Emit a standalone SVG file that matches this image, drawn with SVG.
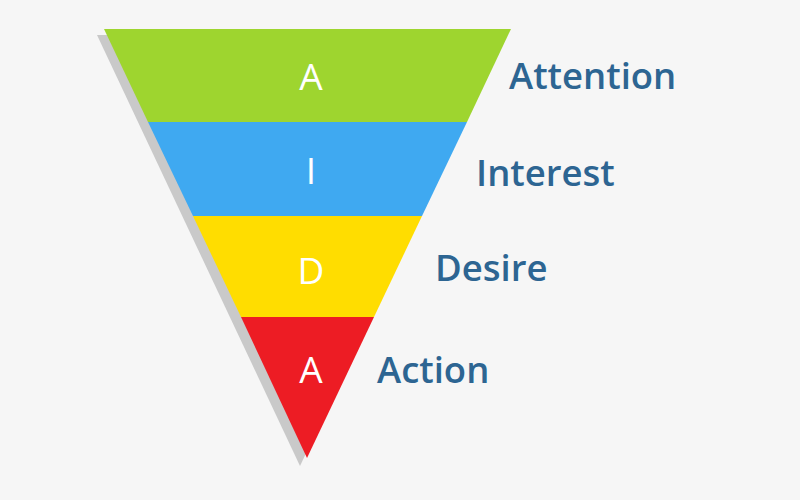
<svg xmlns="http://www.w3.org/2000/svg" width="800" height="500" viewBox="0 0 800 500">
<style>
.lbl{font-family:"Open Sans","Liberation Sans",sans-serif;font-weight:600;font-size:36.5px;fill:#2d6592}
.ltr{font-family:"Open Sans","Liberation Sans",sans-serif;font-weight:500;font-size:37px;fill:#ffffff;text-anchor:middle}
</style>
<rect width="800" height="500" fill="#f6f6f6"/>
<polygon points="97,35 504,35 300,466" fill="#c9c9c9"/>
<g id="attention">
<polygon points="104,29 511,29 467,122 148,122" fill="#9ed52f"/>
<text class="ltr" x="311" y="90">A</text>
<text class="lbl" x="509" y="89">Attention</text>
</g>
<g id="interest">
<polygon points="148,122 467,122 422,216 193,216" fill="#3fa9f1"/>
<text class="ltr" x="311" y="184">I</text>
<text class="lbl" x="476" y="186">Interest</text>
</g>
<g id="desire">
<polygon points="193,216 422,216 374,317 241,317" fill="#ffdd00"/>
<text class="ltr" x="311" y="284">D</text>
<text class="lbl" x="435" y="281">Desire</text>
</g>
<g id="action">
<polygon points="241,317 374,317 307,458" fill="#ed1c24"/>
<text class="ltr" x="311" y="383">A</text>
<text class="lbl" x="377" y="383">Action</text>
</g>
</svg>
